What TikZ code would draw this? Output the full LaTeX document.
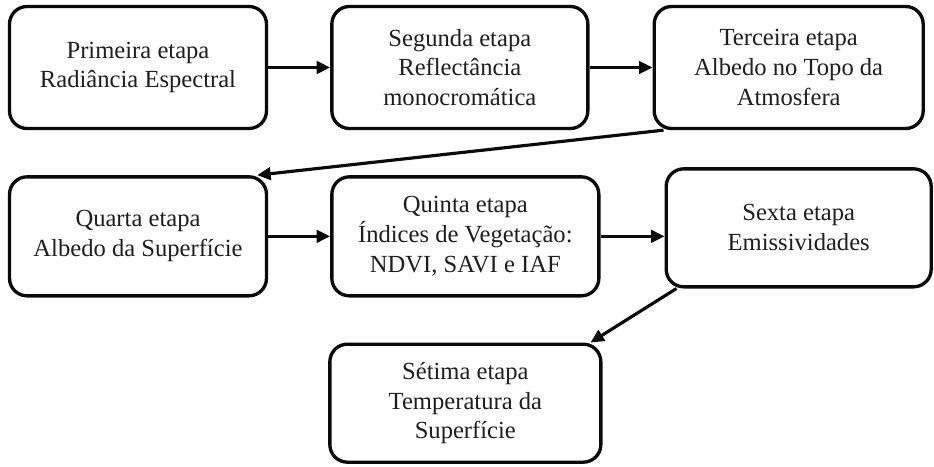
\documentclass[tikz,border=0pt]{standalone}
\usepackage{fontspec}
\setmainfont{Liberation Serif}
\usepackage{xcolor}
\definecolor{etapaline}{RGB}{10, 10, 10}
\definecolor{etapatext}{RGB}{30, 30, 30}
\usepackage{tikz}
\usetikzlibrary{positioning,arrows.meta}
\tikzset{
  etapa/.style={
    rectangle, rounded corners=10pt, draw=etapaline, line width=1.9pt,
    fill=white, align=center, text=etapatext,
    minimum height=2.44cm, minimum width=5.14cm,
    inner sep=4pt, font=\fontsize{14}{17}\selectfont
  },
  arrow/.style={-{Triangle[length=0.27cm, width=0.25cm]}, line width=1.8pt, draw=etapaline},
}

\begin{document}
\begin{tikzpicture}[node distance=0.9cm and 1.24cm]

  \useasboundingbox (0,0) rectangle (18.68,9.32);

  % first row
  \node[etapa] (p1) at (2.76,7.97) {Primeira etapa\\Radiância Espectral};
  \node[etapa, minimum width=5.12cm, right=of p1] (p2) {Segunda etapa\\Reflectância\\monocromática};
  \node[etapa, minimum width=5.38cm, right=1.26cm of p2] (p3) {Terceira etapa\\Albedo no Topo da\\Atmosfera};

  % second row
  \node[etapa, minimum height=2.38cm, below=of p1] (p4) {Quarta etapa\\Albedo da Superfície};
  \node[etapa, minimum height=2.38cm, minimum width=5.34cm, right=of p4] (p5) {Quinta etapa\\Índices de Vegetação:\\NDVI, SAVI e IAF};
  \node[etapa, minimum height=2.36cm, minimum width=5.30cm, right=1.28cm of p5, yshift=0.17cm] (p6) {Sexta etapa\\Emissividades};

  % last step sits under the fifth one
  \node[etapa, minimum height=2.36cm, minimum width=5.42cm, below=of p5] (p7) {Sétima etapa\\Temperatura da\\Superfície};

  \draw[arrow] (p1) -- (p2);
  \draw[arrow] (p2) -- (p3);
  \draw[arrow] ([xshift=0.22cm]p3.south west) -- ([xshift=-0.22cm]p4.north east);
  \draw[arrow] (p4) -- (p5);
  \draw[arrow] (p5.east) -- (p5.east -| p6.west);
  \draw[arrow] ([xshift=0.24cm]p6.south west) -- ([xshift=-0.24cm]p7.north east);

\end{tikzpicture}
\end{document}
